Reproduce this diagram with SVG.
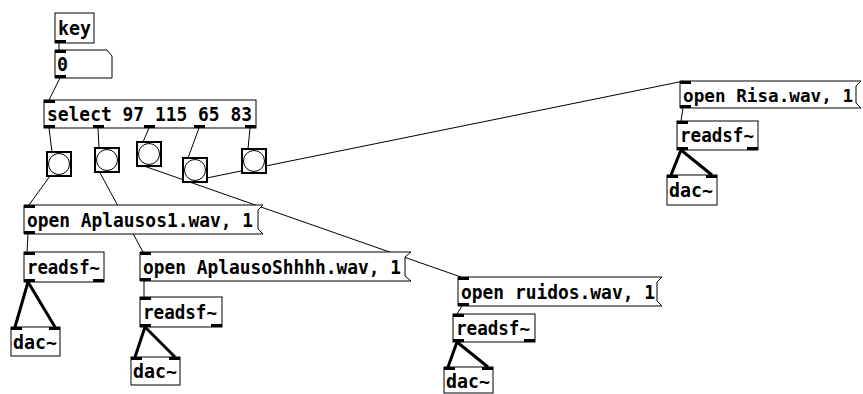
<svg xmlns="http://www.w3.org/2000/svg" width="863" height="394" viewBox="0 0 863 394">
<style>
.box{fill:#fff;stroke:#000;stroke-width:1}
.port{fill:#000}
.t{font-family:"DejaVu Sans Mono","Liberation Mono",monospace;font-weight:bold;font-size:20px;fill:#000}
.c{stroke:#000;stroke-width:1;fill:none}
.s{stroke:#000;stroke-width:3;fill:none}
.bng{fill:#fff;stroke:#000;stroke-width:2}
.ring{fill:none;stroke:#000;stroke-width:1}
</style>
<rect width="863" height="394" fill="#fff"/>
<g id="connectors">
<line class="c" x1="59" y1="43" x2="59" y2="50"/>
<line class="c" x1="60" y1="78" x2="49" y2="100"/>
<line class="c" x1="49" y1="128" x2="52" y2="152"/>
<line class="c" x1="98" y1="128" x2="99" y2="148"/>
<line class="c" x1="149" y1="128" x2="143" y2="142"/>
<line class="c" x1="199" y1="128" x2="188" y2="158"/>
<line class="c" x1="250" y1="128" x2="248" y2="149"/>
<line class="c" x1="50" y1="176" x2="29" y2="205"/>
<line class="c" x1="99" y1="171" x2="143" y2="252"/>
<line class="c" x1="141" y1="165" x2="461" y2="277"/>
<line class="c" x1="187" y1="182" x2="684" y2="81"/>
<line class="c" x1="28" y1="234" x2="27" y2="252"/>
<line class="c" x1="144" y1="281" x2="144" y2="297"/>
<line class="c" x1="462" y1="306" x2="457" y2="314"/>
<line class="c" x1="683" y1="108" x2="681" y2="121"/>
<line class="s" x1="28" y1="282" x2="15" y2="327"/>
<line class="s" x1="28" y1="282" x2="55" y2="327"/>
<line class="s" x1="145" y1="327" x2="135" y2="357"/>
<line class="s" x1="145" y1="327" x2="175" y2="357"/>
<line class="s" x1="457" y1="342" x2="448" y2="367"/>
<line class="s" x1="457" y1="342" x2="488" y2="367"/>
<line class="s" x1="681" y1="150" x2="671" y2="175"/>
<line class="s" x1="681" y1="150" x2="712" y2="175"/>
</g>
<g id="key">
<rect class="box" x="55" y="13" width="39" height="30"/>
<text class="t" x="58" y="35" textLength="33" lengthAdjust="spacingAndGlyphs">key</text>
<rect class="port" x="55" y="40" width="11" height="3"/>
</g>
<g id="number">
<path class="box" d="M55,50 H107 L112,56 V78 H55 Z"/>
<text class="t" x="57" y="71" textLength="11" lengthAdjust="spacingAndGlyphs">0</text>
<rect class="port" x="55" y="50" width="11" height="3"/>
<rect class="port" x="55" y="75" width="11" height="3"/>
</g>
<g id="select">
<rect class="box" x="44" y="100" width="212" height="28"/>
<text class="t" x="47" y="121" textLength="205" lengthAdjust="spacingAndGlyphs">select 97 115 65 83</text>
<rect class="port" x="44" y="100" width="11" height="3"/>
<rect class="port" x="44" y="125" width="11" height="3"/>
<rect class="port" x="93" y="125" width="11" height="3"/>
<rect class="port" x="144" y="125" width="11" height="3"/>
<rect class="port" x="194" y="125" width="11" height="3"/>
<rect class="port" x="245" y="125" width="11" height="3"/>
</g>
<g id="bng1">
<rect class="bng" x="47" y="152" width="24" height="24"/>
<circle class="ring" cx="59" cy="164" r="10.5"/>
</g>
<g id="bng2">
<rect class="bng" x="95" y="148" width="24" height="24"/>
<circle class="ring" cx="107" cy="160" r="10.5"/>
</g>
<g id="bng3">
<rect class="bng" x="137" y="142" width="24" height="24"/>
<circle class="ring" cx="149" cy="154" r="10.5"/>
</g>
<g id="bng4">
<rect class="bng" x="183" y="158" width="24" height="24"/>
<circle class="ring" cx="195" cy="170" r="10.5"/>
</g>
<g id="bng5">
<rect class="bng" x="242" y="149" width="24" height="24"/>
<circle class="ring" cx="254" cy="161" r="10.5"/>
</g>
<g id="msg1">
<path class="box" d="M24,205 H263 L258,210 V229 L263,234 H24 Z"/>
<text class="t" x="27" y="227" textLength="226" lengthAdjust="spacingAndGlyphs">open Aplausos1.wav, 1</text>
<rect class="port" x="24" y="205" width="11" height="3"/>
<rect class="port" x="24" y="231" width="11" height="3"/>
</g>
<g id="msg2">
<path class="box" d="M140,252 H411 L405,257 V276 L411,281 H140 Z"/>
<text class="t" x="143" y="274" textLength="258" lengthAdjust="spacingAndGlyphs">open AplausoShhhh.wav, 1</text>
<rect class="port" x="140" y="252" width="11" height="3"/>
<rect class="port" x="140" y="278" width="11" height="3"/>
</g>
<g id="msg3">
<path class="box" d="M458,277 H662 L657,282 V301 L662,306 H458 Z"/>
<text class="t" x="461" y="299" textLength="194" lengthAdjust="spacingAndGlyphs">open ruidos.wav, 1</text>
<rect class="port" x="458" y="277" width="11" height="3"/>
<rect class="port" x="458" y="303" width="11" height="3"/>
</g>
<g id="msg4">
<path class="box" d="M680,81 H861 L856,86 V103 L861,108 H680 Z"/>
<text class="t" x="683" y="102" style="font-size:18px" textLength="170" lengthAdjust="spacingAndGlyphs">open Risa.wav, 1</text>
<rect class="port" x="680" y="81" width="11" height="3"/>
<rect class="port" x="680" y="105" width="11" height="3"/>
</g>
<g id="readsf1">
<rect class="box" x="24" y="252" width="80" height="30"/>
<text class="t" x="27" y="274" textLength="73" lengthAdjust="spacingAndGlyphs">readsf~</text>
<rect class="port" x="24" y="252" width="11" height="3"/>
<rect class="port" x="24" y="279" width="11" height="3"/>
<rect class="port" x="93" y="279" width="11" height="3"/>
</g>
<g id="readsf2">
<rect class="box" x="140" y="297" width="82" height="30"/>
<text class="t" x="143" y="319" textLength="74" lengthAdjust="spacingAndGlyphs">readsf~</text>
<rect class="port" x="140" y="297" width="11" height="3"/>
<rect class="port" x="140" y="324" width="11" height="3"/>
<rect class="port" x="211" y="324" width="11" height="3"/>
</g>
<g id="readsf3">
<rect class="box" x="453" y="314" width="82" height="28"/>
<text class="t" x="456" y="335" textLength="74" lengthAdjust="spacingAndGlyphs">readsf~</text>
<rect class="port" x="453" y="314" width="11" height="3"/>
<rect class="port" x="453" y="339" width="11" height="3"/>
<rect class="port" x="524" y="339" width="11" height="3"/>
</g>
<g id="readsf4">
<rect class="box" x="677" y="121" width="81" height="29"/>
<text class="t" x="680" y="142" textLength="74" lengthAdjust="spacingAndGlyphs">readsf~</text>
<rect class="port" x="677" y="121" width="11" height="3"/>
<rect class="port" x="677" y="147" width="11" height="3"/>
<rect class="port" x="747" y="147" width="11" height="3"/>
</g>
<g id="dac1">
<rect class="box" x="11" y="327" width="49" height="29"/>
<text class="t" x="13" y="349" textLength="44" lengthAdjust="spacingAndGlyphs">dac~</text>
<rect class="port" x="11" y="327" width="11" height="3"/>
<rect class="port" x="49" y="327" width="11" height="3"/>
</g>
<g id="dac2">
<rect class="box" x="131" y="357" width="49" height="28"/>
<text class="t" x="133" y="378" textLength="44" lengthAdjust="spacingAndGlyphs">dac~</text>
<rect class="port" x="131" y="357" width="11" height="3"/>
<rect class="port" x="169" y="357" width="11" height="3"/>
</g>
<g id="dac3">
<rect class="box" x="444" y="367" width="49" height="26"/>
<text class="t" x="446" y="388" textLength="44" lengthAdjust="spacingAndGlyphs">dac~</text>
<rect class="port" x="444" y="367" width="11" height="3"/>
<rect class="port" x="482" y="367" width="11" height="3"/>
</g>
<g id="dac4">
<rect class="box" x="667" y="175" width="50" height="30"/>
<text class="t" x="669" y="197" textLength="44" lengthAdjust="spacingAndGlyphs">dac~</text>
<rect class="port" x="667" y="175" width="11" height="3"/>
<rect class="port" x="706" y="175" width="11" height="3"/>
</g>
</svg>
